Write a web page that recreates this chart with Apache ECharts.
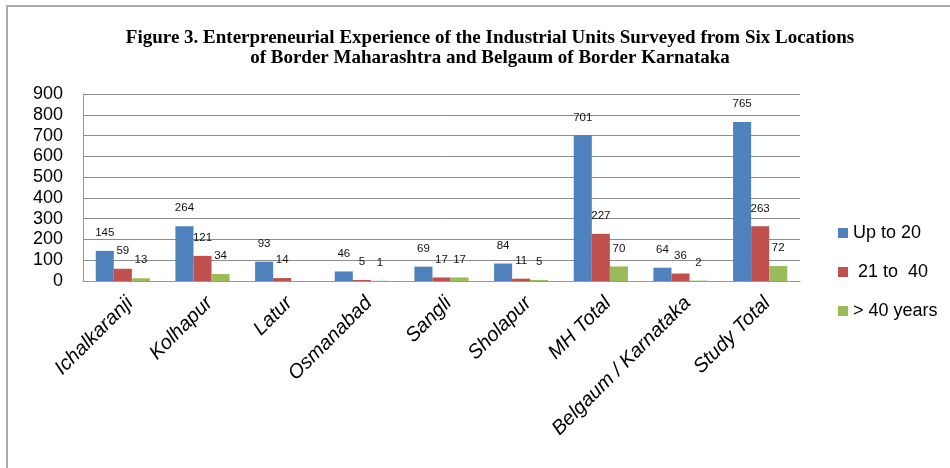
<!DOCTYPE html>
<html>
<head>
<meta charset="utf-8">
<script src="https://cdn.jsdelivr.net/npm/echarts@6/dist/echarts.min.js"></script>
<style>
  html, body { margin: 0; padding: 0; background: #fff; }
  #chart { width: 950px; height: 468px; }
</style>
</head>
<body>
<div id="chart"></div>
<script>
// categories and series values
const categories = ['Ichalkaranji', 'Kolhapur', 'Latur', 'Osmanabad', 'Sangli', 'Sholapur', 'MH Total', 'Belgaum / Karnataka', 'Study Total']
const upTo20 = [145, 264, 93, 46, 69, 84, 701, 64, 765]
const from21to40 = [59, 121, 14, 5, 17, 11, 227, 36, 263]
const over40 = [13, 34, null, 1, 17, 5, 70, 2, 72]
const seriesNames = ['Up to 20', ' 21 to  40', '> 40 years']

// Excel 2007 palette
const COLORS = ['#4F81BD', '#C0504D', '#9BBB59']

const chart = echarts.init(document.getElementById('chart'))

function barSeries(name, values) {
  return {
    name,
    type: 'bar',
    data: values,
    barGap: 0,
    barCategoryGap: '32%',
    label: {
      show: true,
      position: 'top',
      distance: 12,
      fontSize: 11.5,
      color: '#111',
      fontFamily: 'Liberation Sans',
    },
  }
}

chart.setOption({
  color: COLORS,
  animation: false,
  title: {
    text: 'Figure 3. Enterpreneurial Experience of the Industrial Units Surveyed from Six Locations\nof Border Maharashtra and Belgaum of Border Karnataka',
    left: 485,
    top: 23,
    textAlign: 'center',
    textStyle: { fontFamily: 'Liberation Serif', fontWeight: 'bold', fontSize: 19, lineHeight: 20, color: '#000' },
  },
  graphic: [{
    type: 'rect',
    shape: { x: 7, y: 6, width: 1000, height: 1000 },
    style: { fill: 'none', stroke: '#aaa', lineWidth: 2 },
  }],
  legend: {
    orient: 'vertical',
    left: 833,
    top: 219,
    itemWidth: 10,
    itemHeight: 10,
    itemGap: 21,
    icon: 'rect',
    textStyle: { fontFamily: 'Liberation Sans', fontSize: 18, color: '#000' },
  },
  grid: { left: 83, right: 150, top: 94, bottom: 187, containLabel: false },
  xAxis: {
    type: 'category',
    data: categories,
    axisTick: { show: false },
    axisLine: { lineStyle: { color: '#999' } },
    axisLabel: {
      interval: 0,
      rotate: 45,
      margin: 12,
      verticalAlign: 'top',
      fontSize: 20,
      fontStyle: 'italic',
      fontFamily: 'Liberation Sans',
      color: '#000',
    },
  },
  yAxis: {
    type: 'value',
    min: 0,
    max: 900,
    interval: 100,
    axisLine: { show: true, lineStyle: { color: '#999' } },
    axisTick: { show: false },
    splitLine: { lineStyle: { color: '#8c8c8c' } },
    axisLabel: { fontSize: 18, fontFamily: 'Liberation Sans', color: '#000', margin: 20 },
  },
  series: [
    barSeries(seriesNames[0], upTo20),
    barSeries(seriesNames[1], from21to40),
    barSeries(seriesNames[2], over40),
  ],
})
</script>
</body>
</html>
